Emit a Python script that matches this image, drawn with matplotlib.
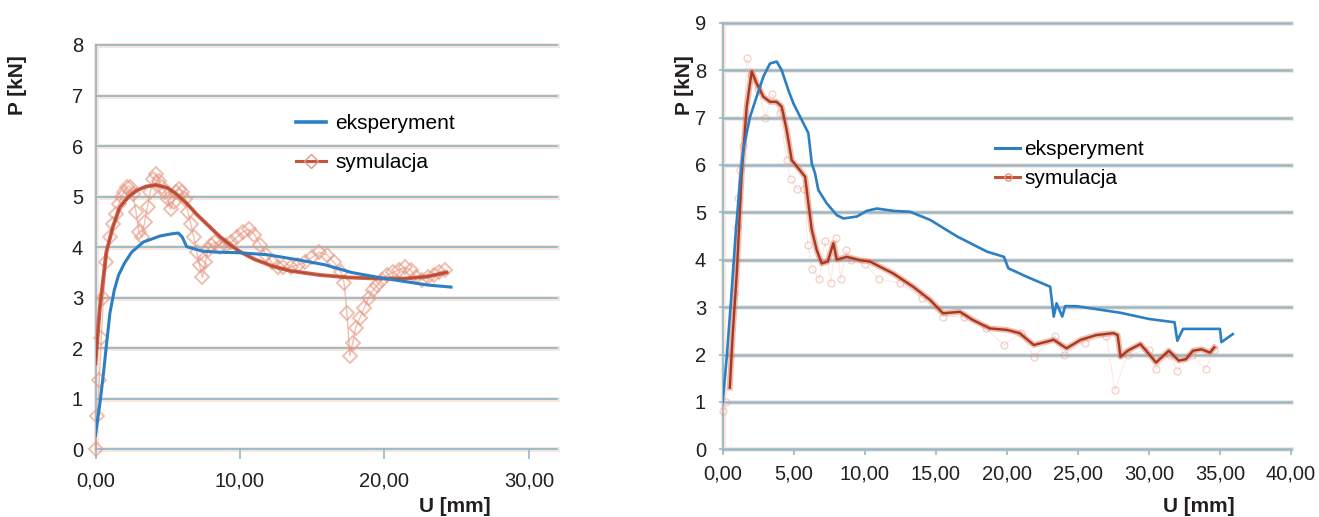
import matplotlib
matplotlib.use("Agg")
import matplotlib.pyplot as plt
from matplotlib.lines import Line2D
from matplotlib.ticker import FuncFormatter

plt.rcParams['font.family'] = ['Liberation Sans', 'DejaVu Sans']

# ---------------- data: left chart ----------------
left_exp_x = [0, 0.3, 0.55, 0.77, 1.0, 1.3, 1.6, 2.0, 2.5, 3.3, 4.46, 5.2, 5.73, 6.0, 6.31,
              7.4, 8.5, 9.9, 11.9, 14.0, 15.9, 17.7, 19.8, 21.4, 23.0, 24.6]
left_exp_y = [0.28, 0.9, 1.5, 2.1, 2.7, 3.15, 3.45, 3.68, 3.9, 4.1, 4.22, 4.26, 4.28, 4.2, 4.01,
              3.92, 3.9, 3.89, 3.85, 3.75, 3.65, 3.5, 3.39, 3.32, 3.25, 3.21]

left_sim_x = [0.0, 0.13, 0.26, 0.4, 0.55, 0.75, 1.0, 1.2, 1.4, 1.6, 1.8, 2.0, 2.2, 2.4, 2.6, 2.8,
              3.0, 3.2, 3.4, 3.6, 3.8, 4.0, 4.2, 4.4, 4.6, 4.8, 5.0, 5.2, 5.4, 5.6, 5.8, 6.0,
              6.2, 6.4, 6.6, 6.8, 7.0, 7.2, 7.4, 7.6, 7.8, 8.0, 8.3, 8.6, 9.0, 9.4, 9.8, 10.2,
              10.6, 11.0, 11.4, 11.8, 12.2, 12.6, 13.0, 13.5, 14.0, 14.5, 15.0, 15.5, 16.0,
              16.5, 17.0, 17.2, 17.4, 17.6, 17.8, 18.0, 18.3, 18.6, 18.9, 19.2, 19.5, 19.8,
              20.2, 20.6, 21.0, 21.4, 21.8, 22.2, 22.6, 23.0, 23.4, 23.8, 24.2]
left_sim_y = [0.0, 0.65, 1.37, 2.2, 3.0, 3.7, 4.2, 4.45, 4.65, 4.85, 5.0, 5.1, 5.2, 5.2, 5.05, 4.7,
              4.3, 4.2, 4.5, 4.8, 5.1, 5.35, 5.45, 5.3, 5.2, 5.1, 4.95, 4.75, 4.9, 5.1, 5.15, 5.1,
              4.95, 4.7, 4.45, 4.2, 3.9, 3.65, 3.4, 3.7, 3.95, 4.05, 4.1, 4.0, 4.05, 4.1, 4.2, 4.3,
              4.35, 4.25, 4.05, 3.85, 3.7, 3.6, 3.6, 3.6, 3.65, 3.7, 3.8, 3.9, 3.85,
              3.7, 3.5, 3.3, 2.7, 1.85, 2.1, 2.4, 2.6, 2.8, 3.0, 3.15, 3.25, 3.35,
              3.45, 3.5, 3.55, 3.6, 3.55, 3.4, 3.35, 3.4, 3.45, 3.5, 3.55]

left_trend_x = [0, 0.3, 0.75, 1.2, 1.7, 2.3, 2.9, 3.5, 4.2, 5.0, 5.6, 6.3, 7.0, 7.8, 8.6, 9.3,
                10.0, 11.0, 12.3, 13.5, 15.5, 17.5, 19.5, 21.5, 23.0, 24.3]
left_trend_y = [1.7, 2.8, 3.9, 4.4, 4.8, 5.0, 5.13, 5.2, 5.23, 5.17, 5.05, 4.87, 4.65, 4.43, 4.21,
                4.05, 3.91, 3.76, 3.62, 3.53, 3.45, 3.4, 3.38, 3.38, 3.42, 3.5]

left_xticks = [0, 10, 20, 30]
left_yticks = [0, 1, 2, 3, 4, 5, 6, 7, 8]

# ---------------- data: right chart ----------------
right_exp_x = [0, 0.3, 0.6, 0.9, 1.22, 1.45, 1.92, 2.39, 2.86, 3.33, 3.8, 4.15, 4.62, 4.97, 5.44,
               6.03, 6.27, 6.5, 6.73, 7.32, 8.03, 8.5, 9.44, 10.14, 10.85, 12.0, 13.2, 14.6, 16.5,
               18.6, 19.8, 20.1, 21.4, 23.05, 23.3, 23.5, 23.9, 24.1, 24.9, 28.0, 30.0, 31.8, 32.0,
               32.4, 35.0, 35.1, 35.9]
right_exp_y = [1.0, 2.0, 3.2, 4.5, 5.68, 6.32, 7.01, 7.44, 7.86, 8.14, 8.18, 8.0, 7.58, 7.3, 7.02,
               6.67, 6.03, 5.82, 5.47, 5.19, 4.94, 4.87, 4.91, 5.03, 5.08, 5.03, 5.01, 4.84, 4.49,
               4.17, 4.06, 3.82, 3.64, 3.43, 2.80, 3.08, 2.80, 3.02, 3.02, 2.88, 2.75, 2.68, 2.29,
               2.54, 2.54, 2.26, 2.43]

right_sim_x = [0.0, 0.2, 0.5, 0.8, 1.0, 1.1, 1.2, 1.4, 1.7, 2.0, 2.5, 3.0, 3.5, 4.0, 4.5, 4.8, 5.2,
               5.7, 6.0, 6.3, 6.8, 7.2, 7.6, 8.0, 8.3, 8.7, 9.0, 10.0, 11.0, 12.5, 14.0, 15.5, 17.0,
               18.5, 19.8, 21.0, 21.9, 23.4, 24.0, 25.5, 27.0, 27.6, 28.5, 30.0, 30.5, 31.5, 32.0,
               33.0, 34.0, 34.6]
right_sim_y = [0.8, 1.0, 2.0, 3.3, 4.7, 5.3, 5.9, 6.4, 8.25, 7.9, 7.6, 7.0, 7.5, 7.1, 6.1, 5.7, 5.5,
               5.5, 4.3, 3.8, 3.6, 4.4, 3.5, 4.45, 3.6, 4.2, 4.0, 3.9, 3.6, 3.5, 3.2, 2.8, 2.8,
               2.55, 2.2, 2.45, 1.95, 2.4, 2.0, 2.25, 2.4, 1.25, 2.0, 2.1, 1.7, 2.0, 1.65,
               2.0, 1.7, 2.1]

right_avg_x = [0.5, 0.7, 0.99, 1.34, 1.69, 2.04, 2.39, 2.86, 3.33, 3.8, 4.15, 4.5, 4.86, 5.32, 5.8,
               6.03, 6.27, 6.62, 6.97, 7.39, 7.79, 8.03, 8.73, 9.67, 10.37, 11.08, 12.0, 13.4, 14.6,
               15.5, 16.7, 17.6, 18.8, 20.0, 20.9, 21.9, 23.3, 24.2, 25.2, 26.3, 27.5, 27.8, 28.0,
               28.5, 29.4, 30.0, 30.5, 31.4, 32.1, 32.6, 33.1, 33.7, 34.3, 34.6]
right_avg_y = [1.3, 2.4, 3.71, 5.82, 7.23, 7.97, 7.72, 7.44, 7.33, 7.33, 7.23, 6.74, 6.1, 5.93, 5.75,
               5.19, 4.63, 4.2, 3.92, 3.96, 4.35, 4.0, 4.06, 3.99, 3.96, 3.85, 3.71, 3.43, 3.15,
               2.87, 2.90, 2.73, 2.55, 2.52, 2.45, 2.20, 2.31, 2.13, 2.31, 2.41, 2.45, 2.41, 1.95,
               2.08, 2.22, 2.01, 1.83, 2.08, 1.87, 1.90, 2.08, 2.11, 2.04, 2.15]

right_xticks = [0, 5, 10, 15, 20, 25, 30, 35, 40]
right_yticks = [0, 1, 2, 3, 4, 5, 6, 7, 8, 9]

series_labels = ["eksperyment", "symulacja"]
x_label = "U [mm]"
y_label = "P [kN]"

# ---------------- styles ----------------
BLUE = "#2b7fc4"
RED = "#c9523a"
RED_DARK = "#a8381f"
MARK = "#e5957f"
GRID = "#93b9cc"
HALO = "#fbe6db"
TXT = "#231f20"
FS = 14.5

W, H = 1319, 517
fig = plt.figure(figsize=(W / 100, H / 100), dpi=100)

comma = FuncFormatter(lambda v, p: f"{v:.2f}".replace(".", ","))


def style_axes(ax, xticks, yticks, xmax, ymax, xtick_len, xpad, ytick_len, grid_lw):
    ax.set_xlim(0, xmax)
    ax.set_ylim(0, ymax)
    for s in ["top", "right", "bottom", "left"]:
        ax.spines[s].set_visible(False)
    for yv in yticks:
        ax.axhline(yv, color=HALO, lw=3.6, zorder=0.5, clip_on=False)
        ax.axhline(yv, color=GRID, lw=grid_lw, zorder=0.6, clip_on=False)
    ax.axvline(0, color=HALO, lw=3.6, zorder=0.5, clip_on=False)
    ax.axvline(0, color=GRID, lw=1.3, zorder=0.6, clip_on=False)
    ax.set_xticks(xticks)
    ax.set_yticks(yticks)
    ax.xaxis.set_major_formatter(comma)
    ax.tick_params(axis="x", length=xtick_len, width=1.2, color=GRID, pad=xpad,
                   labelsize=FS, labelcolor=TXT)
    ax.tick_params(axis="y", length=ytick_len, width=1.2, color=GRID, pad=9,
                   labelsize=FS, labelcolor=TXT)


# ---------------- left chart ----------------
axL = fig.add_axes([95.5 / W, 1 - 449.3 / H, 461.5 / W, (449.3 - 45) / H])
style_axes(axL, left_xticks, left_yticks, 461.5 / 14.45, 8, 7.0, 9.0, 0, 1.3)
axL.plot(left_sim_x, left_sim_y, color="#e89580", lw=1.0, alpha=0.6, marker="D",
         ms=7.5, mfc="none", mec=MARK, mew=1.4, zorder=2, clip_on=False)
axL.plot(left_trend_x, left_trend_y, color=RED, lw=2.8, alpha=0.9, zorder=3)
axL.plot(left_trend_x, left_trend_y, color=RED_DARK, lw=1.0, alpha=0.6, zorder=3.1)
axL.plot(left_exp_x, left_exp_y, color=BLUE, lw=2.2, zorder=4)

hL = [Line2D([], [], color=BLUE, lw=2.6),
      Line2D([], [], color=RED, lw=2.2, marker="D", ms=7, mfc="none", mec=MARK)]
axL.legend(hL, series_labels, loc="upper left", bbox_to_anchor=(296 / W, 1 - 114 / H),
           bbox_transform=fig.transFigure, frameon=False, fontsize=15, handlelength=1.45,
           handletextpad=0.45, labelspacing=0.95, borderpad=0, borderaxespad=0)

# ---------------- right chart ----------------
axR = fig.add_axes([722.7 / W, 1 - 449.3 / H, 568.3 / W, (449.3 - 22.7) / H])
style_axes(axR, right_xticks, right_yticks, 40, 9, 4.3, 7.0, 3, 1.8)
axR.plot(right_sim_x, right_sim_y, color="#f0c3b6", lw=0.6, alpha=0.45, marker="o",
         ms=5, mfc="none", mec=MARK, mew=0.9, zorder=2, clip_on=False)
axR.plot(right_exp_x, right_exp_y, color=BLUE, lw=1.9, zorder=4)
axR.plot(right_avg_x, right_avg_y, color="#e07a62", lw=4.2, alpha=0.5, zorder=3)
axR.plot(right_avg_x, right_avg_y, color=RED_DARK, lw=1.7, zorder=3.1)

hR = [Line2D([], [], color=BLUE, lw=2.2),
      Line2D([], [], color=RED, lw=2.2, marker="o", ms=5, mfc="none", mec=MARK)]
axR.legend(hR, series_labels, loc="upper left", bbox_to_anchor=(995 / W, 1 - 140 / H),
           bbox_transform=fig.transFigure, frameon=False, fontsize=15, handlelength=1.2,
           handletextpad=0.2, labelspacing=0.5, borderpad=0, borderaxespad=0)

# ---------------- axis titles ----------------
fig.text(17.5 / W, 1 - 85 / H, y_label, rotation=90, ha="center", va="center",
         fontsize=15, fontweight="bold", color=TXT)
fig.text(685 / W, 1 - 85 / H, y_label, rotation=90, ha="center", va="center",
         fontsize=15, fontweight="bold", color=TXT)
fig.text(455 / W, 1 - 507 / H, x_label, ha="center", va="center",
         fontsize=15, fontweight="bold", color=TXT)
fig.text(1199 / W, 1 - 507 / H, x_label, ha="center", va="center",
         fontsize=15, fontweight="bold", color=TXT)

fig.savefig("out.png", dpi=100, facecolor="white")
